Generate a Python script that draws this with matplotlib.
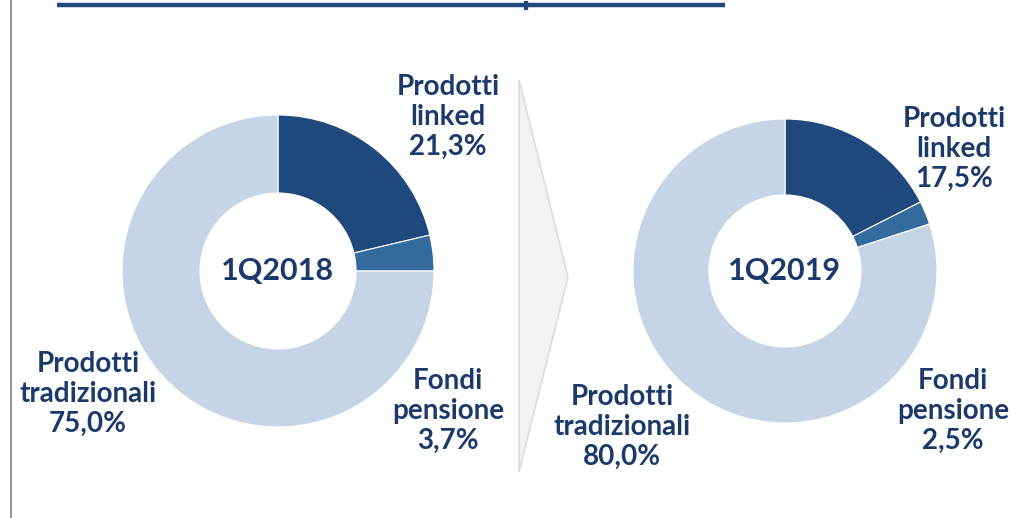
import matplotlib
matplotlib.use("Agg")
import matplotlib.pyplot as plt
from matplotlib.patches import Polygon

# data
categories = ["Prodotti linked", "Fondi pensione", "Prodotti tradizionali"]
periods = ["1Q2018", "1Q2019"]
shares_2018 = [21.3, 3.7, 75.0]
shares_2019 = [17.5, 2.5, 80.0]

colors = ["#1F497D", "#336B9E", "#C5D5E5"]
txt_col = "#1B3A6B"
W, H = 1022, 518

plt.rcParams['font.family'] = ['Lato', 'DejaVu Sans']

fig = plt.figure(figsize=(W / 100, H / 100), dpi=100)
ax = fig.add_axes([0, 0, 1, 1])


def fy(y):
    # image pixel y -> axes y (up)
    return H - y


def fmt(v):
    return f"{v:.1f}".replace(".", ",") + "%"


def donut(cx, cy, r, shares, period, pos):
    ax.pie(shares, colors=colors, startangle=90, counterclock=False,
           center=(cx, fy(cy)), radius=r,
           wedgeprops=dict(width=r * 0.5, edgecolor="white", linewidth=0.8))
    ax.text(cx, fy(cy), period, ha="center", va="center", fontsize=22,
            fontweight="bold", color=txt_col)
    for cat, v, (tx, ty) in zip(categories, shares, pos):
        a, b = cat.split(" ")
        ax.text(tx, fy(ty), f"{a}\n{b}\n{fmt(v)}", ha="center", va="center",
                fontsize=20, fontweight="bold", color=txt_col, linespacing=1.2)


donut(278, 271, 156, shares_2018, periods[0],
      [(448, 117), (448, 411), (88, 394)])
donut(785, 271, 152, shares_2019, periods[1],
      [(954, 149), (953, 411), (622, 427)])

# arrow chevron between the two donuts
ax.add_patch(Polygon([(519, fy(80)), (568, fy(277)), (519, fy(472))],
                     closed=True, facecolor="#F2F2F2", edgecolor="#DDDDDD",
                     linewidth=1.2))

# header rule and left border
ax.plot([57, 725], [fy(5), fy(5)], color="#1F497D", linewidth=3.2,
        solid_capstyle="butt")
ax.plot([526, 526], [fy(3), fy(8)], color="#1F497D", linewidth=3)
ax.plot([11, 11], [0, H], color="#8C8C8C", linewidth=1.3)

ax.set_xlim(0, W)
ax.set_ylim(0, H)
ax.set_aspect("auto")
ax.axis("off")

fig.savefig("out.png", dpi=100)
